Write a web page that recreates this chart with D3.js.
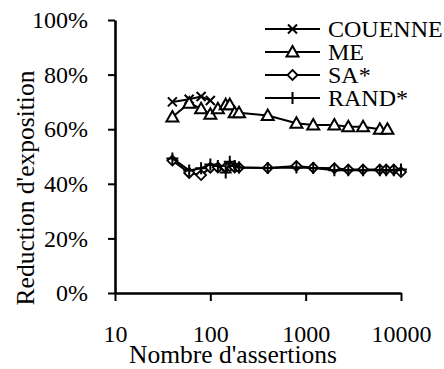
<!DOCTYPE html>
<html>
<head>
<meta charset="utf-8">
<script src="https://cdn.jsdelivr.net/npm/d3@7"></script>
</head>
<body style="margin:0">
<svg id="chart" width="444" height="369"></svg>
<script>
// data (x = number of assertions, y = reduction)
var couenneX = [40, 60, 80, 100];
var couenneY = [0.70, 0.71, 0.72, 0.705];

var meX = [40, 60, 80, 100, 120, 145, 160, 180, 200, 400, 800, 1200, 2000, 2800, 4000, 6000, 7200];
var meY = [0.645, 0.695, 0.675, 0.655, 0.675, 0.69, 0.69, 0.66, 0.66, 0.65, 0.622, 0.615, 0.615, 0.609, 0.609, 0.60, 0.60];

var saX = [40, 60, 80, 100, 120, 145, 160, 180, 200, 400, 800, 1200, 2000, 2800, 4000, 6000, 7000, 8400, 10000];
var saY = [0.485, 0.44, 0.432, 0.459, 0.46, 0.46, 0.465, 0.46, 0.46, 0.458, 0.465, 0.459, 0.457, 0.452, 0.452, 0.452, 0.452, 0.452, 0.443];

var randX = [40, 60, 80, 100, 120, 145, 160, 180, 200, 400, 800, 1200, 2000, 2800, 4000, 6000, 7000, 8400, 10000];
var randY = [0.493, 0.449, 0.457, 0.471, 0.465, 0.441, 0.481, 0.465, 0.46, 0.458, 0.46, 0.458, 0.45, 0.45, 0.45, 0.45, 0.45, 0.45, 0.452];

var xTicks = [10, 100, 1000, 10000];
var yTicks = [0, 0.2, 0.4, 0.6, 0.8, 1];

var seriesNames = ["COUENNE", "ME", "SA*", "RAND*"];
var seriesMarks = ["cross", "triangle", "diamond", "plus"];

var serif = "Liberation Serif";

var d3Svg = d3.select("#chart");

var x = d3.scaleLog().domain([10, 10000]).range([115, 401]);
var y = d3.scaleLinear().domain([0, 1]).range([293, 20]);

// axes
var xAxis = d3Svg.append("g")
    .attr("transform", "translate(0,293)")
    .call(d3.axisBottom(x).tickValues(xTicks).tickFormat(d3.format("d"))
        .tickSize(8).tickSizeOuter(0).tickPadding(24));

var yAxis = d3Svg.append("g")
    .attr("transform", "translate(115,0)")
    .call(d3.axisLeft(y).tickValues(yTicks).tickFormat(d3.format(".0%"))
        .tickSize(7).tickSizeOuter(0).tickPadding(20));

[xAxis, yAxis].forEach(function (a) {
    a.select(".domain").attr("stroke", "#000").attr("stroke-width", 2.6);
    a.selectAll(".tick line").attr("stroke", "#000").attr("stroke-width", 2);
    a.selectAll("text").attr("font-size", 24).style("font-family", serif).attr("fill", "#000");
});

// axis titles
d3Svg.append("text")
    .attr("x", 233).attr("y", 363)
    .attr("text-anchor", "middle")
    .attr("font-size", 25.5)
    .style("font-family", serif)
    .text("Nombre d'assertions");

d3Svg.append("text")
    .attr("transform", "translate(34,188) rotate(-90)")
    .attr("text-anchor", "middle")
    .attr("font-size", 25.5)
    .style("font-family", serif)
    .text("Reduction d'exposition");

// markers
function drawMark(g, type, cx, cy) {
    if (type === "cross") {
        g.append("path").attr("d", "M" + (cx - 4.5) + "," + (cy - 4.5) + "L" + (cx + 4.5) + "," + (cy + 4.5) +
            "M" + (cx - 4.5) + "," + (cy + 4.5) + "L" + (cx + 4.5) + "," + (cy - 4.5))
            .attr("stroke", "#000").attr("stroke-width", 2).attr("fill", "none");
    } else if (type === "triangle") {
        g.append("path").attr("d", "M" + cx + "," + (cy - 6) + "L" + (cx + 6) + "," + (cy + 4.5) + "L" + (cx - 6) + "," + (cy + 4.5) + "Z")
            .attr("stroke", "#000").attr("stroke-width", 2).attr("fill", "#fff");
    } else if (type === "diamond") {
        g.append("path").attr("d", "M" + cx + "," + (cy - 5) + "L" + (cx + 5) + "," + cy + "L" + cx + "," + (cy + 5) + "L" + (cx - 5) + "," + cy + "Z")
            .attr("stroke", "#000").attr("stroke-width", 1.8).attr("fill", "#fff");
    } else if (type === "plus") {
        g.append("path").attr("d", "M" + (cx - 6) + "," + cy + "L" + (cx + 6) + "," + cy +
            "M" + cx + "," + (cy - 6) + "L" + cx + "," + (cy + 6))
            .attr("stroke", "#000").attr("stroke-width", 2).attr("fill", "none");
    }
}

var allSeries = [
    { xs: couenneX, ys: couenneY },
    { xs: meX, ys: meY },
    { xs: saX, ys: saY },
    { xs: randX, ys: randY }
];

var line = d3.line()
    .x(function (d) { return x(d[0]); })
    .y(function (d) { return y(d[1]); });

allSeries.forEach(function (s, i) {
    var pts = s.xs.map(function (v, j) { return [v, s.ys[j]]; });
    var g = d3Svg.append("g");
    g.append("path")
        .datum(pts)
        .attr("d", line)
        .attr("fill", "none")
        .attr("stroke", "#000")
        .attr("stroke-width", 2);
    pts.forEach(function (p) { drawMark(g, seriesMarks[i], x(p[0]), y(p[1])); });
});

// legend
var legend = d3Svg.append("g");
seriesNames.forEach(function (name, i) {
    var ly = 29 + i * 23;
    legend.append("line")
        .attr("x1", 265).attr("x2", 320).attr("y1", ly).attr("y2", ly)
        .attr("stroke", "#000").attr("stroke-width", 2);
    drawMark(legend, seriesMarks[i], 292.5, ly);
    legend.append("text")
        .attr("x", 328).attr("y", ly).attr("dy", "0.33em")
        .attr("font-size", 24)
        .style("font-family", serif)
        .text(name);
});
</script>
</body>
</html>
